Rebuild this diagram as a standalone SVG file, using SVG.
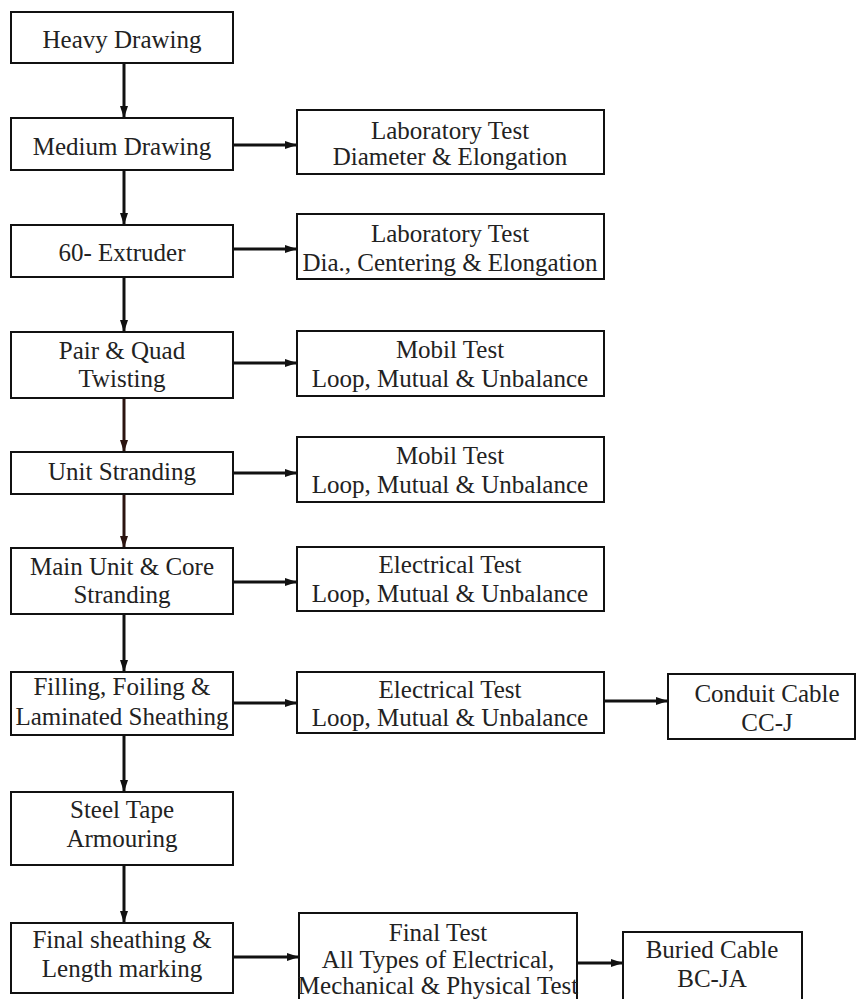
<svg xmlns="http://www.w3.org/2000/svg" width="857" height="999" viewBox="0 0 857 999">
  <defs>
    <marker id="arrow" viewBox="0 0 12 8" refX="12" refY="4" markerWidth="12" markerHeight="8" markerUnits="userSpaceOnUse" orient="auto">
      <path d="M0,0 L12,4 L0,8 Z" fill="#111"/>
    </marker>
    <marker id="arrow-brown" viewBox="0 0 12 8" refX="12" refY="4" markerWidth="12" markerHeight="8" markerUnits="userSpaceOnUse" orient="auto">
      <path d="M0,0 L12,4 L0,8 Z" fill="#2b1410"/>
    </marker>
  </defs>
  <style>
    .box { fill: #fff; stroke: #111; stroke-width: 2; }
    .lbl { font-size: 25px; fill: #222; text-anchor: middle; }
    .link { stroke: #111; stroke-width: 3; fill: none; marker-end: url(#arrow); }
    .link.brown { stroke: #2b1410; marker-end: url(#arrow-brown); }
  </style>
  <rect width="857" height="999" fill="#fff"/>

  <!-- connectors -->
  <g id="connectors">
    <line class="link" x1="124" y1="63" x2="124" y2="118"/>
    <line class="link" x1="124" y1="170" x2="124" y2="225"/>
    <line class="link" x1="124" y1="277" x2="124" y2="332"/>
    <line class="link brown" x1="124" y1="398" x2="124" y2="452"/>
    <line class="link brown" x1="124" y1="494" x2="124" y2="548"/>
    <line class="link" x1="124" y1="614" x2="124" y2="672"/>
    <line class="link" x1="124" y1="735" x2="124" y2="792"/>
    <line class="link" x1="124" y1="865" x2="124" y2="923"/>

    <line class="link" x1="233" y1="145" x2="297" y2="145"/>
    <line class="link" x1="233" y1="249" x2="297" y2="249"/>
    <line class="link" x1="233" y1="363" x2="297" y2="363"/>
    <line class="link" x1="233" y1="473" x2="297" y2="473"/>
    <line class="link" x1="233" y1="582" x2="297" y2="582"/>
    <line class="link" x1="233" y1="703" x2="297" y2="703"/>
    <line class="link" x1="604" y1="701" x2="668" y2="701"/>
    <line class="link" x1="233" y1="957" x2="299" y2="957"/>
    <line class="link" x1="577" y1="963" x2="623" y2="963"/>
  </g>

  <g font-family="Liberation Serif, Tinos, Times New Roman, DejaVu Serif, serif">
  <!-- process column -->
  <g id="heavy-drawing">
    <rect class="box" x="11" y="12" width="222" height="51"/>
    <text class="lbl" x="122" y="48">Heavy Drawing</text>
  </g>
  <g id="medium-drawing">
    <rect class="box" x="11" y="118" width="222" height="52"/>
    <text class="lbl" x="122" y="155">Medium Drawing</text>
  </g>
  <g id="extruder">
    <rect class="box" x="11" y="225" width="222" height="52"/>
    <text class="lbl" x="122" y="261">60- Extruder</text>
  </g>
  <g id="pair-quad-twisting">
    <rect class="box" x="11" y="332" width="222" height="66"/>
    <text class="lbl" x="122" y="359">Pair &amp; Quad</text>
    <text class="lbl" x="122" y="387">Twisting</text>
  </g>
  <g id="unit-stranding">
    <rect class="box" x="11" y="452" width="222" height="42"/>
    <text class="lbl" x="122" y="480">Unit Stranding</text>
  </g>
  <g id="core-stranding">
    <rect class="box" x="11" y="548" width="222" height="66"/>
    <text class="lbl" x="122" y="575">Main Unit &amp; Core</text>
    <text class="lbl" x="122" y="603">Stranding</text>
  </g>
  <g id="laminated-sheathing">
    <rect class="box" x="11" y="672" width="222" height="63"/>
    <text class="lbl" x="122" y="695">Filling, Foiling &amp;</text>
    <text class="lbl" x="122" y="725">Laminated Sheathing</text>
  </g>
  <g id="steel-tape-armouring">
    <rect class="box" x="11" y="792" width="222" height="73"/>
    <text class="lbl" x="122" y="818">Steel Tape</text>
    <text class="lbl" x="122" y="847">Armouring</text>
  </g>
  <g id="final-sheathing">
    <rect class="box" x="11" y="923" width="222" height="70"/>
    <text class="lbl" x="122" y="948">Final sheathing &amp;</text>
    <text class="lbl" x="122" y="977">Length marking</text>
  </g>

  <!-- test column -->
  <g id="lab-test-1">
    <rect class="box" x="297" y="110" width="307" height="64"/>
    <text class="lbl" x="450" y="139">Laboratory Test</text>
    <text class="lbl" x="450" y="165">Diameter &amp; Elongation</text>
  </g>
  <g id="lab-test-2">
    <rect class="box" x="297" y="214" width="307" height="65"/>
    <text class="lbl" x="450" y="242">Laboratory Test</text>
    <text class="lbl" x="450" y="271">Dia., Centering &amp; Elongation</text>
  </g>
  <g id="mobil-test-1">
    <rect class="box" x="297" y="331" width="307" height="65"/>
    <text class="lbl" x="450" y="358">Mobil Test</text>
    <text class="lbl" x="450" y="387">Loop, Mutual &amp; Unbalance</text>
  </g>
  <g id="mobil-test-2">
    <rect class="box" x="297" y="437" width="307" height="65"/>
    <text class="lbl" x="450" y="464">Mobil Test</text>
    <text class="lbl" x="450" y="493">Loop, Mutual &amp; Unbalance</text>
  </g>
  <g id="electrical-test-1">
    <rect class="box" x="297" y="547" width="307" height="64"/>
    <text class="lbl" x="450" y="573">Electrical Test</text>
    <text class="lbl" x="450" y="602">Loop, Mutual &amp; Unbalance</text>
  </g>
  <g id="electrical-test-2">
    <rect class="box" x="297" y="672" width="307" height="61"/>
    <text class="lbl" x="450" y="698">Electrical Test</text>
    <text class="lbl" x="450" y="726">Loop, Mutual &amp; Unbalance</text>
  </g>
  <g id="final-test">
    <rect class="box" x="299" y="913" width="278" height="95"/>
    <text class="lbl" x="438" y="941">Final Test</text>
    <text class="lbl" x="438" y="968">All Types of Electrical,</text>
    <text class="lbl" x="438" y="994">Mechanical &amp; Physical Test</text>
  </g>

  <!-- products -->
  <g id="conduit-cable">
    <rect class="box" x="668" y="674" width="187" height="65"/>
    <text class="lbl" x="767" y="702">Conduit Cable</text>
    <text class="lbl" x="767" y="731">CC-J</text>
  </g>
  <g id="buried-cable">
    <rect class="box" x="623" y="932" width="179" height="76"/>
    <text class="lbl" x="712" y="958">Buried Cable</text>
    <text class="lbl" x="712" y="987">BC-JA</text>
  </g>
  </g>
</svg>
